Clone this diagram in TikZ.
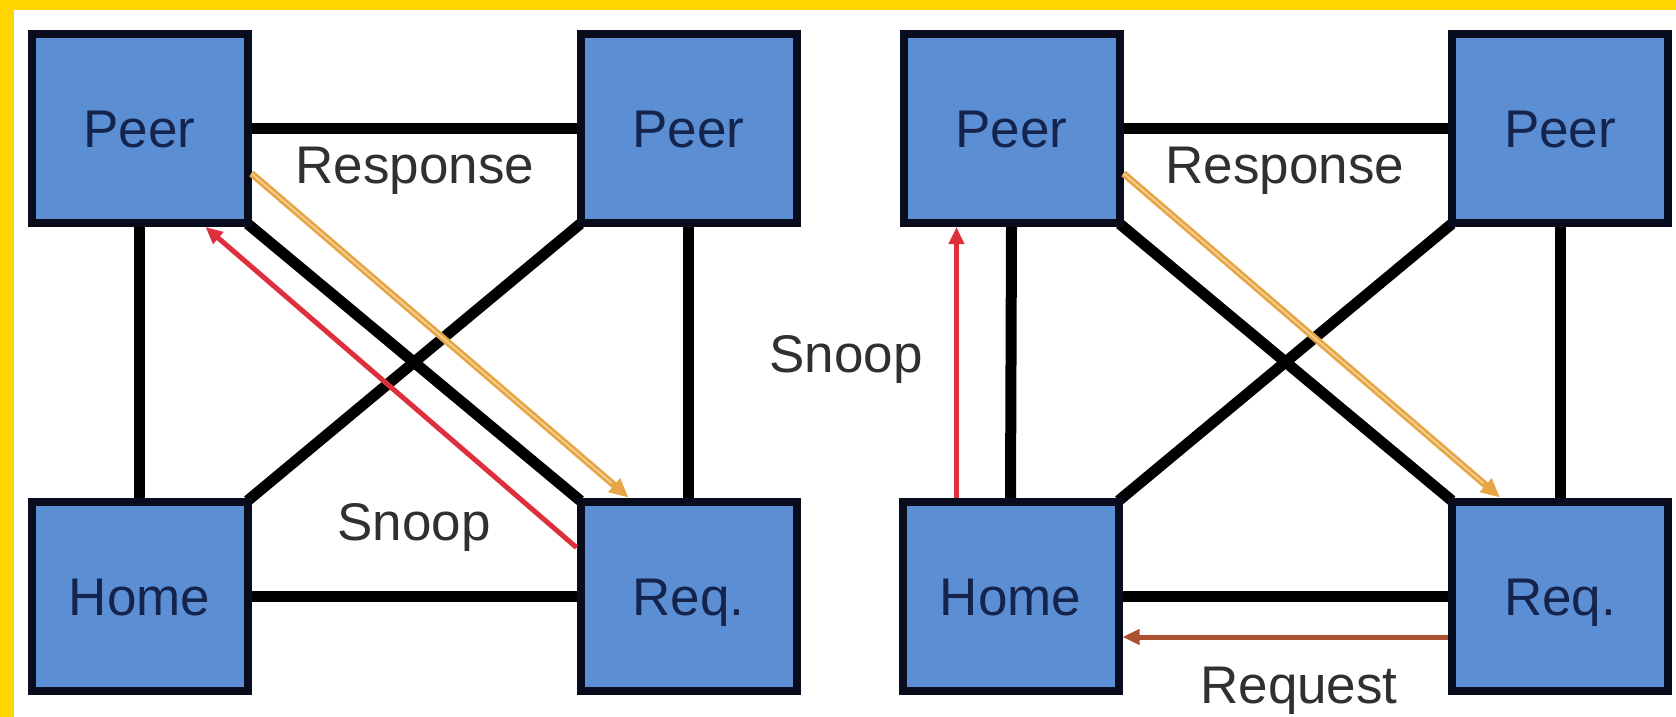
\documentclass[tikz,border=0pt]{standalone}
\usepackage{fontspec}
\setmainfont{Liberation Sans}
\usetikzlibrary{arrows.meta}
\pgfdeclarelayer{canvas}
\pgfdeclarelayer{wires}
\pgfsetlayers{canvas,wires,main}
\definecolor{frameyellow}{RGB}{255,214,0}
\definecolor{boxblue}{RGB}{92,142,212}
\definecolor{boxedge}{RGB}{8,12,28}
\definecolor{boxtext}{RGB}{20,36,76}
\definecolor{labeltext}{RGB}{48,48,48}
\definecolor{respcol}{RGB}{232,165,70}
\definecolor{resplight}{RGB}{243,210,150}
\definecolor{snoopcol}{RGB}{222,48,60}
\definecolor{reqcol}{RGB}{170,82,50}
\begin{document}
\begin{tikzpicture}[x=1pt,y=-1pt,
  unit/.style={draw=boxedge, line width=8pt, fill=boxblue,
    minimum width=216pt, minimum height=189pt, inner sep=0pt,
    font=\fontsize{53}{60}\selectfont, text=boxtext,
    text height=38pt, text depth=0pt},
  link/.style={line width=11pt, draw=black, shorten <=-5pt, shorten >=-5pt},
  msg/.style={font=\fontsize{53}{60}\selectfont, text=labeltext,
    anchor=base, inner sep=0pt},
  resp/.style={draw=respcol, line width=7pt,
    -{Triangle[length=19pt,width=17pt]}},
  respcore/.style={draw=resplight, line width=1.6pt, shorten >=22pt},
  snoop/.style={draw=snoopcol, line width=5pt,
    -{Triangle[length=17pt,width=15pt]}},
  request/.style={draw=reqcol, line width=5pt,
    -{Triangle[length=17pt,width=15pt]}}]

% frame and page
\begin{pgfonlayer}{canvas}
  \fill[frameyellow] (0,0) rectangle (1676,717);
  \fill[white] (14,10) rectangle (1676,717);
\end{pgfonlayer}
\useasboundingbox (0,0) rectangle (1676,717);

% left system
\node[unit] (pa) at (139.5,128.5) {Peer};
\node[unit] (pb) at (688.5,128.5) {Peer};
\node[unit] (ha) at (139.5,596) {Home};
\node[unit] (ra) at (688.5,596) {Req.};

% right system
\node[unit] (pc) at (1011.5,128.5) {Peer};
\node[unit] (pd) at (1560,128.5) {Peer};
\node[unit] (hb) at (1010.5,596) {Home};
\node[unit] (rb) at (1560,596) {Req.};

% interconnect
\begin{pgfonlayer}{wires}
  \draw[link] (pa.east) -- (pb.west);
  \draw[link] (pa.south) -- (ha.north);
  \draw[link] (pb.south) -- (ra.north);
  \draw[link] (ha.east) -- (ra.west);
  \draw[link] (pa.south east) -- (ra.north west);
  \draw[link] (ha.north east) -- (pb.south west);

  \draw[link] (pc.east) -- (pd.west);
  \draw[link] (pc.south) -- (hb.north);
  \draw[link] (pd.south) -- (rb.north);
  \draw[link] (hb.east) -- (rb.west);
  \draw[link] (pc.south east) -- (rb.north west);
  \draw[link] (hb.north east) -- (pd.south west);
\end{pgfonlayer}

% message end points
\coordinate (ras) at ([yshift=-45pt]pa.east);
\coordinate (rae) at ([xshift=52pt]ra.north west);
\coordinate (rbs) at ([yshift=-45pt]pc.east);
\coordinate (rbe) at ([xshift=52pt]rb.north west);

% messages, left
\draw[resp] (ras) -- (rae);
\draw[respcore] (ras) -- (rae);
\draw[snoop] ([yshift=-50pt]ra.north west) -- ([xshift=66pt]pa.south);
\node[msg] (rsa) at (415,183) {Response};
\node[msg] (sna) at (414,540) {Snoop};

% messages, right
\draw[resp] (rbs) -- (rbe);
\draw[respcore] (rbs) -- (rbe);
\draw[snoop] ([xshift=-54pt]hb.north) -- ([xshift=-54pt]hb.north |- pc.south);
\draw[request] ([yshift=-41pt]rb.west) -- ([yshift=-41pt]rb.west -| hb.east);
\node[msg] (rsb) at (1285,183) {Response};
\node[msg] (snb) at (846,372) {Snoop};
\node[msg] (rqb) at (1299,703) {Request};
\end{tikzpicture}
\end{document}
